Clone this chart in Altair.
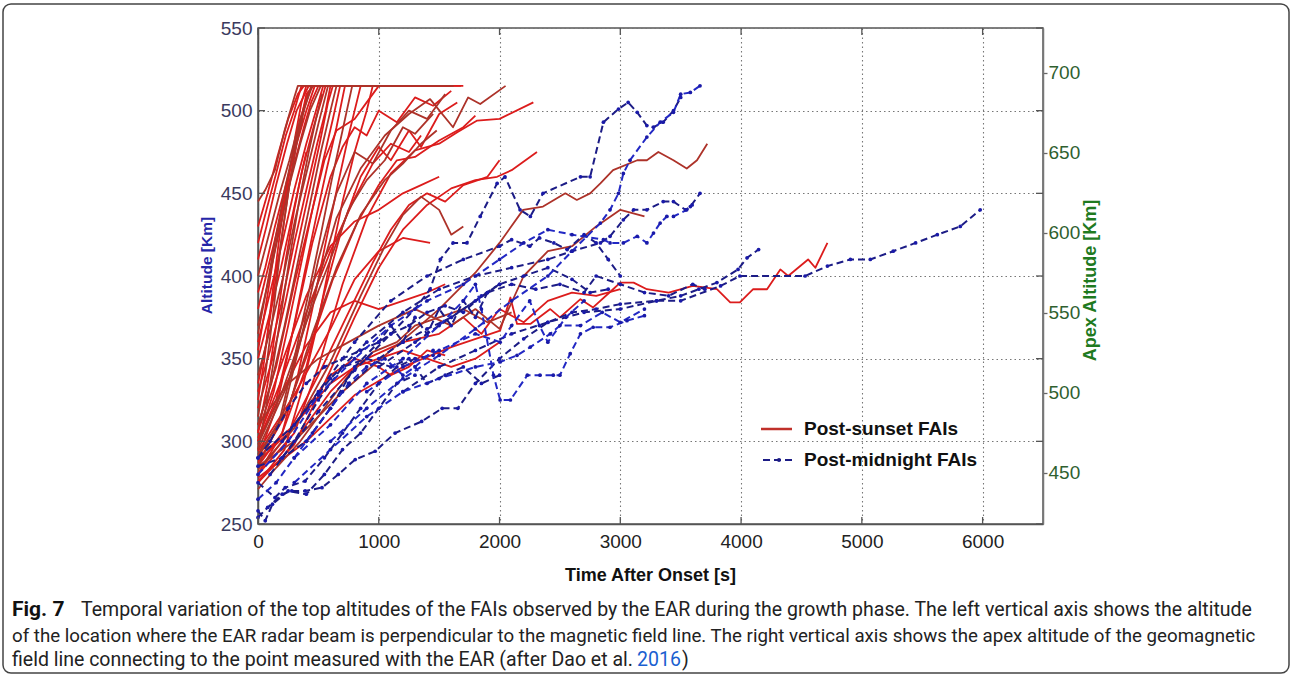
import altair as alt
import pandas as pd

# ---------------- data ----------------
x_ticks = [0, 1000, 2000, 3000, 4000, 5000, 6000]
alt_ticks = [250, 300, 350, 400, 450, 500, 550]
apex_ticks = [450, 500, 550, 600, 650, 700]
apex_domain = [418.1, 728.1]

# Post-sunset FAIs: each curve is a list of (time [s], altitude [km])
post_sunset = [
    [(0,445),(60,452),(140,464),(220,488),(300,508),(330,515),(520,515)],
    [(0,430),(80,450),(160,472),(250,495),(330,510),(380,515),(640,515)],
    [(0,410),(70,430),(150,455),(240,480),(320,500),(420,515),(820,515)],
    [(0,400),(90,425),(180,450),(260,470),(350,495),(450,515),(1050,515)],
    [(0,390),(60,405),(140,430),(230,455),(320,480),(400,500),(470,515),(700,515)],
    [(0,380),(100,410),(200,440),(290,465),(380,490),(440,505),(500,515),(1250,515)],
    [(0,370),(80,395),(170,425),(260,455),(350,480),(430,500),(520,515),(900,515)],
    [(0,360),(100,390),(200,420),(300,452),(400,480),(480,500),(540,515),(1450,515)],
    [(0,350),(90,375),(190,405),(280,435),(370,465),(460,490),(560,515),(760,515)],
    [(0,340),(110,370),(210,400),(310,435),(410,465),(500,492),(580,515),(1620,515)],
    [(0,330),(100,355),(200,385),(300,420),(400,452),(490,480),(560,500),(600,515),(1100,515)],
    [(0,320),(120,350),(230,385),(330,420),(420,450),(510,480),(580,505),(620,515),(1350,515)],
    [(0,310),(110,335),(220,370),(320,405),(420,440),(520,475),(600,500),(650,515),(980,515)],
    [(0,300),(130,330),(250,370),(350,405),(450,440),(540,470),(620,495),(680,515),(1700,515)],
    [(0,290),(150,320),(270,360),(380,400),(480,435),(570,465),(650,490),(720,515),(1530,515)],
    [(0,285),(170,310),(300,350),(420,390),(520,425),(610,458),(700,488),(780,515),(1180,515)],
    [(0,280),(200,305),(330,340),(450,380),(560,420),(660,455),(750,485),(850,515),(1600,515)],
    [(0,275),(220,295),(360,330),(490,370),(600,410),(700,445),(800,475),(900,500),(950,515),(1680,515)],
    [(0,315),(60,340),(130,380),(190,420),(260,455),(320,480),(380,500),(440,515)],
    [(0,335),(70,360),(140,395),(210,430),(270,460),(330,485),(400,510),(460,515)],
    [(0,355),(60,380),(130,412),(200,440),(280,470),(350,495),(420,512)],
    [(0,295),(90,330),(180,372),(260,410),(340,445),(420,475),(480,495),(530,510)],
    [(0,325),(50,348),(120,390),(180,425),(250,458),(310,485),(360,505),(400,515),(600,515)],
    [(0,305),(80,335),(160,375),(230,410),(300,440),(360,462),(400,475)],
    [(0,365),(70,392),(150,425),(230,455),(300,478),(370,495)],
    [(0,420),(70,440),(150,462),(230,485),(300,500),(360,515),(560,515)],
    [(0,300),(150,325),(300,370),(450,420),(600,460),(700,478),(800,490),(900,485),(1000,500),(1150,493),(1300,508),(1450,503),(1600,512)],
    [(0,290),(200,315),(350,360),(500,410),(650,450),(800,475),(950,468),(1100,488),(1250,500),(1400,495),(1550,510)],
    [(0,285),(200,305),(400,345),(550,390),(700,430),(850,460),(1000,478),(1100,470),(1250,488),(1350,478),(1500,498),(1650,505)],
    [(0,310),(150,345),(300,395),(450,440),(550,470),(650,488),(800,495),(900,505),(1000,515),(1200,515)],
    [(0,295),(250,335),(450,385),(650,435),(850,465),(1050,485),(1250,498),(1425,507),(1615,490),(1740,508),(1840,504),(2050,515)],
    [(0,280),(300,305),(500,345),(700,395),(900,435),(1100,462),(1300,476),(1500,480),(1650,487),(1815,494),(2000,495),(2280,505)],
    [(0,275),(300,298),(550,335),(800,375),(1000,405),(1200,428),(1400,443),(1600,453),(1800,458),(1980,460),(2100,464),(2310,475)],
    [(0,292),(250,320),(450,365),(650,405),(850,437),(1050,458),(1200,468),(1350,480),(1480,488)],
    [(0,302),(200,338),(400,378),(600,415),(800,447),(950,468),(1100,480),(1250,475),(1350,485)],
    [(0,288),(250,305),(500,340),(750,378),(950,408),(1100,428),(1250,443),(1400,450),(1550,445),(1700,455),(1900,460),(2000,470)],
    [(0,283),(300,308),(600,348),(850,388),(1050,418),(1200,437),(1350,448),(1500,440),(1600,425),(1700,430)],
    [(0,294),(300,328),(600,368),(800,398),(1000,415),(1200,423),(1425,420)],
    [(0,306),(200,348),(400,388),(600,418),(800,433),(1000,440),(1200,450),(1350,455),(1500,460)],
    [(0,298),(200,330),(400,372),(600,410),(750,440),(900,458),(1050,470),(1200,490),(1300,486),(1450,498)],
    [(0,287),(220,315),(420,355),(620,398),(820,432),(1000,455),(1150,470),(1300,472),(1500,482),(1700,490),(1800,497)],
    [(0,276),(200,290),(400,310),(600,330),(800,345),(1000,350),(1200,355),(1400,350),(1600,345),(1800,350),(2000,360)],
    [(0,271),(150,284),(350,300),(550,320),(750,340),(950,354),(1150,360),(1300,370),(1500,375),(1700,380),(1900,372),(2100,378)],
    [(0,281),(200,300),(400,320),(600,340),(800,350),(1000,345),(1100,340),(1250,345),(1400,355),(1550,352)],
    [(0,300),(200,330),(400,358),(600,378),(800,385),(1000,380),(1200,385),(1400,390),(1550,395)],
    [(0,285),(300,300),(700,330),(1100,355),(1500,380),(1800,402),(2000,420),(2195,440),(2360,442),(2545,450),(2640,446),(2750,450),(2835,456),(2940,464),(3140,470),(3220,470),(3315,475),(3440,470),(3550,465),(3635,470),(3720,480)],
    [(0,278),(400,300),(800,328),(1200,345),(1600,357),(2005,367),(2090,387),(2145,371),(2255,371),(2420,380),(2500,375),(2670,386),(2775,381),(2940,392),(3000,396),(3110,396),(3220,392),(3400,390),(3600,394),(3800,392),(3910,384),(3990,384),(4100,392),(4215,392),(4325,404),(4390,400),(4555,410),(4615,405),(4715,420)],
    [(0,290),(300,310),(600,335),(900,350),(1200,360),(1500,365),(1700,375),(1850,365),(2000,380),(2200,372),(2400,385),(2600,390),(2800,388),(3000,392)],
    [(0,310),(250,335),(500,350),(750,360),(1000,370),(1300,380),(1600,370),(1800,380),(2000,368),(2200,400),(2400,415),(2600,418),(2800,430),(3000,440),(3200,436)],
]

# Post-midnight FAIs
post_midnight = [
    [(600,300),(900,320),(1200,338),(1500,352),(1800,368),(2100,385),(2400,400),(2600,415),(2835,432),(2915,440),(2985,450),(3025,462),(3080,470),(3220,484),(3330,493),(3440,499),(3500,510),(3580,511),(3660,515)],
    [(200,290),(500,318),(800,343),(1100,365),(1300,380),(1425,392),(1510,410),(1615,420),(1730,420),(1840,436),(1980,456),(2045,460),(2170,440),(2255,436),(2360,450),(2670,460),(2750,460),(2860,493),(2985,501),(3065,505),(3140,499),(3220,491),(3275,490),(3355,493),(3440,500),(3500,508)],
    [(0,290),(300,310),(600,338),(900,360),(1200,378),(1500,392),(1800,400),(2100,405),(2400,410),(2600,415),(2835,420),(2915,424),(3025,434),(3110,440),(3220,440),(3355,445),(3440,445),(3540,440),(3580,442),(3660,450)],
    [(0,280),(250,300),(500,328),(800,350),(1100,370),(1400,385),(1700,395),(2000,410),(2200,420),(2400,428),(2600,425),(2860,422),(2915,420),(3025,420),(3140,424),(3220,420),(3275,426),(3330,432),(3385,436),(3440,436),(3550,440),(3595,443)],
    [(0,254),(80,260),(200,268),(280,270),(390,270),(530,272),(665,280),(805,289),(970,294),(1135,305),(1355,312),(1525,320),(1655,320),(1800,335),(2000,350),(2200,362),(2400,372),(2600,378),(2800,380),(3000,383),(3300,385),(3500,385),(3830,394),(3990,400),(4530,400),(4715,406),(4905,410),(5070,410),(5260,415),(5445,420),(5625,425),(5815,430),(5980,440)],
    [(1200,330),(1500,345),(1800,355),(2100,365),(2400,372),(2700,378),(3000,380),(3300,385),(3500,388),(3650,392),(3800,396),(3975,404),(4050,411),(4145,416)],
    [(300,290),(600,310),(900,335),(1200,350),(1500,370),(1700,385),(1800,395),(1850,380),(1950,340),(2005,325),(2090,325),(2230,340),(2335,340),(2445,340),(2500,340),(2585,353),(2670,365),(2775,369),(2915,369),(3055,373),(3200,376)],
    [(200,300),(500,330),(800,360),(1100,385),(1400,400),(1700,410),(2000,418),(2100,422),(2250,418),(2330,423),(2450,420),(2560,416),(2700,425),(2800,420),(2900,410),(3000,400)],
    [(0,285),(200,290),(400,300),(700,330),(1000,350),(1200,360),(1400,368),(1600,375),(1800,385),(2000,395),(2200,400),(2400,405),(2600,398),(2750,390),(2900,392)],
    [(300,275),(600,295),(900,315),(1200,330),(1500,338),(1800,345),(2005,348),(2145,352),(2255,357),(2420,365),(2500,370),(2670,370),(2850,378),(3000,372),(3200,380)],
    [(0,275),(140,266),(225,272),(390,276),(550,290),(700,305),(850,320),(1000,335),(1150,345),(1300,350),(1450,352)],
    [(0,290),(100,300),(250,320),(400,335),(550,345),(700,350),(850,355),(1000,360),(1100,365),(1250,370),(1400,378),(1550,382),(1700,378),(1850,388),(2000,395)],
    [(0,265),(150,275),(300,290),(450,305),(600,320),(750,335),(900,345),(1050,350),(1200,340),(1300,345),(1450,355)],
    [(400,300),(600,320),(800,345),(1000,360),(1100,370),(1200,360),(1300,375),(1400,365),(1500,380),(1600,370),(1700,385),(1800,375),(1900,390)],
    [(100,280),(300,300),(500,325),(700,345),(900,350),(1100,345),(1250,350),(1400,335),(1550,340),(1700,345),(1850,335),(2000,340)],
    [(900,330),(1200,345),(1500,355),(1800,365),(2005,360),(2100,370),(2250,385),(2330,370),(2400,360),(2550,375),(2700,385)],
    [(1000,345),(1300,360),(1600,375),(1900,390),(2100,395),(2300,392),(2500,395),(2700,390),(2800,400),(3000,395),(3200,390),(3400,388),(3600,395),(3700,392)],
    [(0,258),(60,252),(120,262),(250,270),(400,268),(550,280),(700,295),(850,305),(1000,320),(1150,335),(1300,340)],
]

legend_labels = ["Post-sunset FAIs", "Post-midnight FAIs"]
x_title = "Time After Onset [s]"
y_title = "Altitude [Km]"
y2_title = "Apex Altitude [Km]"
caption_bold = "Fig. 7"
caption_1 = ("Temporal variation of the top altitudes of the FAIs observed by the EAR during the growth phase. "
             "The left vertical axis shows the altitude")
caption_2 = ("of the location where the EAR radar beam is perpendicular to the magnetic field line. "
             "The right vertical axis shows the apex altitude of the geomagnetic")
caption_3 = "field line connecting to the point measured with the EAR (after Dao et al."
caption_link = "2016"
caption_end = ")"

# ---------------- build tables ----------------
def to_rows(curves, prefix):
    rows = []
    for i, c in enumerate(curves):
        for j, (t, a) in enumerate(c):
            rows.append({"id": f"{prefix}{i}", "t": t, "alt": a, "k": j, "tone": int(i % 3 == 0)})
    return pd.DataFrame(rows)

red_df = to_rows(post_sunset, "s")
blue_df = to_rows(post_midnight, "m")

W, H = 785, 496
FONT = "Liberation Sans"

xscale = alt.Scale(domain=[0, 6500], nice=False, zero=False)
yscale = alt.Scale(domain=[250, 550], nice=False, zero=False)

x_axis = alt.Axis(values=x_ticks, format="d", grid=True, gridDash=[1.5, 3], gridColor="#777",
                  gridWidth=1.1, ticks=False, tickSize=0, labelFlush=False, labelFontSize=19,
                  labelColor="#222", labelFont=FONT, labelPadding=8, domainColor="#555",
                  domainWidth=1.5, title=x_title, titleFont=FONT, titleFontSize=18,
                  titleFontWeight="bold", titleColor="#111", titleX=392, titleY=51,
                  titleBaseline="middle", titleAlign="center")
y_axis = alt.Axis(values=alt_ticks, grid=True, gridDash=[1.5, 3], gridColor="#777", gridWidth=1.1,
                  ticks=False, tickSize=0, labelFlush=False, labelFontSize=19, labelColor="#3a3a5e",
                  labelFont=FONT, labelPadding=6, domainColor="#555", domainWidth=1.5,
                  title=y_title, titleFont=FONT, titleFontSize=15.5, titleFontWeight="bold",
                  titleColor="#2626a8", titleAngle=270, titleX=-52, titleY=237,
                  titleBaseline="middle", titleAlign="center")

red_a = alt.Chart(red_df).transform_filter("datum.tone == 0").mark_line(
    strokeWidth=1.8, strokeJoin="round", color="#dc1c1c").encode(
    x=alt.X("t:Q", scale=xscale, axis=x_axis),
    y=alt.Y("alt:Q", scale=yscale, axis=y_axis),
    detail="id:N", order="k:Q",
)
red_b = alt.Chart(red_df).transform_filter("datum.tone == 1").mark_line(
    strokeWidth=1.8, strokeJoin="round", color="#ad3229").encode(
    x=alt.X("t:Q"), y=alt.Y("alt:Q"), detail="id:N", order="k:Q",
)

blue_a = alt.Chart(blue_df).transform_filter("datum.tone == 0").mark_line(
    strokeWidth=2, strokeDash=[7, 4], color="#1c1c86").encode(
    x=alt.X("t:Q"), y=alt.Y("alt:Q"), detail="id:N", order="k:Q")
blue_b = alt.Chart(blue_df).transform_filter("datum.tone == 1").mark_line(
    strokeWidth=2, strokeDash=[7, 4], color="#2228c4").encode(
    x=alt.X("t:Q"), y=alt.Y("alt:Q"), detail="id:N", order="k:Q")
blue_pts = alt.Chart(blue_df).mark_circle(size=14, opacity=1, color="#1a1aa8").encode(
    x=alt.X("t:Q"), y=alt.Y("alt:Q"))

tick_x = pd.DataFrame({"t": x_ticks})
tick_y = pd.DataFrame({"alt": alt_ticks})
tx_bottom = alt.Chart(tick_x).mark_rule(color="#555", strokeWidth=1.3).encode(
    x="t:Q", y=alt.value(H), y2=alt.value(H - 7))
tx_top = alt.Chart(tick_x).mark_rule(color="#555", strokeWidth=1.3).encode(
    x="t:Q", y=alt.value(0), y2=alt.value(7))
ty_left = alt.Chart(tick_y).mark_rule(color="#555", strokeWidth=1.3).encode(
    y="alt:Q", x=alt.value(0), x2=alt.value(7))
ty_right = alt.Chart(tick_y).mark_rule(color="#555", strokeWidth=1.3).encode(
    y="alt:Q", x=alt.value(W - 7), x2=alt.value(W))

one = alt.Data(values=[{"a": 1}])

def text(s, x, y, **kw):
    return alt.Chart(one).mark_text(text=s, align="left", baseline="middle", **kw).encode(
        x=alt.value(x), y=alt.value(y))

# legend (drawn manually, inside the plot)
leg_red = alt.Chart(one).mark_rule(color="#c0302a", strokeWidth=2.5).encode(
    x=alt.value(503), x2=alt.value(534), y=alt.value(401))
leg_blue = alt.Chart(one).mark_rule(color="#1c1c86", strokeWidth=2.2, strokeDash=[7, 4]).encode(
    x=alt.value(505), x2=alt.value(537), y=alt.value(432))
leg_dot = alt.Chart(one).mark_circle(color="#1c1c86", size=16, opacity=1).encode(
    x=alt.value(521), y=alt.value(432))
leg_t1 = text(legend_labels[0], 546, 401, font=FONT, fontSize=19, fontWeight="bold", color="#111")
leg_t2 = text(legend_labels[1], 546, 432, font=FONT, fontSize=19, fontWeight="bold", color="#111")

# caption
CF = "Roboto"
cap0 = text(caption_bold, -246, 582, font=CF, fontSize=21, fontWeight="bold", color="#111")
cap1 = text(caption_1, -177, 582, font=CF, fontSize=19.5, color="#222")
cap2 = text(caption_2, -246, 608, font=CF, fontSize=18.7, color="#222")
cap3 = text(caption_3, -246, 632, font=CF, fontSize=19.5, color="#222")
cap4 = text(caption_link, 379, 632, font=CF, fontSize=19.5, color="#1a5fd0")
cap5 = text(caption_end, 424, 632, font=CF, fontSize=19.5, color="#222")

frame = alt.Chart(one).mark_rect(fillOpacity=0, stroke="#444", strokeWidth=1.5, cornerRadius=8).encode(
    x=alt.value(-255), x2=alt.value(1031), y=alt.value(-24), y2=alt.value(645))

inner = alt.layer(red_a, red_b, blue_a, blue_b, blue_pts, tx_bottom, tx_top, ty_left, ty_right,
                  leg_red, leg_blue, leg_dot, leg_t1, leg_t2,
                  cap0, cap1, cap2, cap3, cap4, cap5, frame)

apex = alt.Chart(pd.DataFrame({"apex": apex_domain})).mark_point(opacity=0).encode(
    y=alt.Y("apex:Q", scale=alt.Scale(domain=apex_domain, nice=False, zero=False),
            axis=alt.Axis(orient="right", values=apex_ticks, grid=False, ticks=True, tickSize=4,
                          tickColor="#666", tickWidth=1.3, labelFlush=False, labelFontSize=19,
                          labelColor="#2f5f2f", labelFont=FONT, labelPadding=1, domainColor="#777",
                          domainWidth=1.5, title=y2_title, titleFont=FONT, titleFontSize=18,
                          titleFontWeight="bold", titleColor="#1f7a1f", titleAngle=270,
                          titleX=47, titleY=252, titleBaseline="middle", titleAlign="center"))
)

chart = alt.layer(inner, apex).resolve_scale(y="independent").properties(
    width=W, height=H,
    autosize=alt.AutoSizeParams(type="none"),
    padding={"left": 258, "top": 28, "right": 250, "bottom": 154},
    background="white",
).configure_view(stroke="#555", strokeWidth=1.5)

chart.save("out.html", embed_options={"renderer": "svg", "actions": False})
